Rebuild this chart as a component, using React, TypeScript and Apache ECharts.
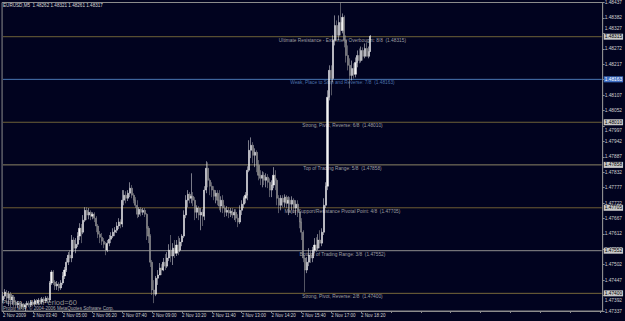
import React, { useEffect, useRef } from "react";
import * as echarts from "echarts";

const opens = [1.47376,1.47390,1.47401,1.47383,1.47397,1.47376,1.47387,1.47369,1.47358,1.47365,1.47355,1.47362,1.47351,1.47358,1.47365,1.47358,1.47369,1.47362,1.47373,1.47365,1.47376,1.47369,1.47380,1.47373,1.47383,1.47376,1.47437,1.47476,1.47440,1.47426,1.47433,1.47419,1.47437,1.47462,1.47483,1.47511,1.47536,1.47526,1.47590,1.47561,1.47575,1.47604,1.47632,1.47618,1.47661,1.47696,1.47679,1.47689,1.47675,1.47682,1.47668,1.47640,1.47611,1.47600,1.47586,1.47575,1.47554,1.47579,1.47593,1.47604,1.47618,1.47625,1.47640,1.47654,1.47647,1.47732,1.47750,1.47739,1.47757,1.47775,1.47750,1.47732,1.47714,1.47682,1.47700,1.47689,1.47696,1.47682,1.47632,1.47604,1.47511,1.47412,1.47397,1.47454,1.47465,1.47490,1.47483,1.47511,1.47497,1.47526,1.47554,1.47533,1.47561,1.47543,1.47572,1.47554,1.47583,1.47604,1.47679,1.47732,1.47753,1.47739,1.47746,1.47732,1.47689,1.47704,1.47679,1.47689,1.47675,1.47768,1.47846,1.47803,1.47782,1.47768,1.47746,1.47757,1.47732,1.47711,1.47732,1.47704,1.47689,1.47696,1.47686,1.47693,1.47679,1.47689,1.47668,1.47654,1.47696,1.47718,1.47739,1.47750,1.47839,1.47910,1.47928,1.47892,1.47903,1.47857,1.47821,1.47810,1.47821,1.47803,1.47814,1.47796,1.47768,1.47786,1.47821,1.47803,1.47739,1.47714,1.47739,1.47725,1.47743,1.47721,1.47732,1.47718,1.47732,1.47704,1.47718,1.47689,1.47654,1.47618,1.47526,1.47483,1.47511,1.47536,1.47526,1.47554,1.47572,1.47561,1.47590,1.47579,1.47618,1.47714,1.47782,1.48099,1.48195,1.48166,1.48302,1.48355,1.48320,1.48366,1.48337,1.48384,1.48302,1.48248,1.48213,1.48177,1.48202,1.48181,1.48223,1.48248,1.48230,1.48266,1.48245,1.48273,1.48245,1.48262];
const closes = [1.47390,1.47405,1.47383,1.47397,1.47376,1.47387,1.47369,1.47358,1.47365,1.47355,1.47362,1.47351,1.47358,1.47365,1.47358,1.47369,1.47362,1.47373,1.47365,1.47376,1.47369,1.47380,1.47373,1.47383,1.47376,1.47437,1.47476,1.47440,1.47426,1.47433,1.47419,1.47437,1.47462,1.47483,1.47511,1.47536,1.47526,1.47590,1.47561,1.47575,1.47604,1.47632,1.47618,1.47661,1.47696,1.47679,1.47689,1.47675,1.47682,1.47668,1.47640,1.47611,1.47600,1.47586,1.47575,1.47554,1.47579,1.47593,1.47604,1.47618,1.47625,1.47640,1.47654,1.47647,1.47732,1.47750,1.47739,1.47757,1.47775,1.47750,1.47732,1.47714,1.47682,1.47700,1.47689,1.47696,1.47682,1.47632,1.47604,1.47511,1.47412,1.47397,1.47454,1.47465,1.47490,1.47483,1.47511,1.47497,1.47526,1.47554,1.47533,1.47561,1.47543,1.47572,1.47554,1.47583,1.47604,1.47679,1.47732,1.47753,1.47739,1.47746,1.47732,1.47689,1.47704,1.47679,1.47689,1.47675,1.47768,1.47846,1.47803,1.47782,1.47768,1.47746,1.47757,1.47732,1.47711,1.47732,1.47704,1.47689,1.47696,1.47686,1.47693,1.47679,1.47689,1.47668,1.47654,1.47696,1.47718,1.47739,1.47750,1.47839,1.47910,1.47928,1.47892,1.47903,1.47857,1.47821,1.47810,1.47821,1.47803,1.47814,1.47796,1.47768,1.47786,1.47821,1.47803,1.47739,1.47714,1.47739,1.47725,1.47743,1.47721,1.47732,1.47718,1.47732,1.47704,1.47718,1.47689,1.47654,1.47618,1.47526,1.47483,1.47511,1.47536,1.47526,1.47554,1.47572,1.47561,1.47590,1.47579,1.47618,1.47714,1.47782,1.48099,1.48195,1.48166,1.48302,1.48355,1.48320,1.48366,1.48337,1.48384,1.48302,1.48248,1.48213,1.48177,1.48202,1.48181,1.48223,1.48248,1.48230,1.48266,1.48245,1.48273,1.48245,1.48262,1.48317];
const highs = [1.47405,1.47415,1.47412,1.47408,1.47405,1.47394,1.47394,1.47376,1.47373,1.47369,1.47369,1.47365,1.47365,1.47373,1.47373,1.47376,1.47376,1.47380,1.47380,1.47383,1.47383,1.47387,1.47387,1.47390,1.47390,1.47444,1.47483,1.47483,1.47447,1.47444,1.47440,1.47447,1.47476,1.47494,1.47526,1.47547,1.47554,1.47608,1.47600,1.47597,1.47618,1.47650,1.47647,1.47679,1.47707,1.47707,1.47704,1.47696,1.47689,1.47689,1.47675,1.47647,1.47622,1.47615,1.47597,1.47583,1.47590,1.47608,1.47618,1.47632,1.47636,1.47654,1.47668,1.47664,1.47768,1.47768,1.47764,1.47768,1.47796,1.47786,1.47757,1.47743,1.47732,1.47707,1.47707,1.47704,1.47704,1.47686,1.47640,1.47611,1.47519,1.47447,1.47462,1.47483,1.47508,1.47504,1.47526,1.47540,1.47547,1.47575,1.47608,1.47579,1.47590,1.47590,1.47604,1.47597,1.47611,1.47696,1.47750,1.47768,1.47761,1.47828,1.47761,1.47743,1.47714,1.47711,1.47704,1.47700,1.47782,1.47871,1.47867,1.47810,1.47796,1.47782,1.47768,1.47768,1.47768,1.47746,1.47750,1.47714,1.47711,1.47707,1.47704,1.47704,1.47700,1.47700,1.47682,1.47714,1.47732,1.47746,1.47761,1.47853,1.47946,1.47956,1.47939,1.47917,1.47910,1.47875,1.47839,1.47835,1.47832,1.47828,1.47825,1.47810,1.47803,1.47850,1.47839,1.47810,1.47750,1.47750,1.47750,1.47753,1.47750,1.47746,1.47743,1.47746,1.47739,1.47732,1.47732,1.47696,1.47668,1.47625,1.47536,1.47529,1.47561,1.47554,1.47565,1.47597,1.47600,1.47611,1.47625,1.47632,1.47739,1.47796,1.48124,1.48213,1.48213,1.48320,1.48391,1.48373,1.48391,1.48437,1.48398,1.48391,1.48320,1.48284,1.48238,1.48230,1.48220,1.48241,1.48266,1.48273,1.48280,1.48277,1.48291,1.48295,1.48280,1.48321];
const lows = [1.47365,1.47380,1.47365,1.47355,1.47351,1.47358,1.47355,1.47348,1.47348,1.47344,1.47344,1.47340,1.47337,1.47348,1.47351,1.47351,1.47355,1.47355,1.47358,1.47358,1.47362,1.47362,1.47365,1.47365,1.47365,1.47369,1.47430,1.47430,1.47412,1.47412,1.47408,1.47412,1.47430,1.47451,1.47476,1.47501,1.47511,1.47511,1.47547,1.47543,1.47565,1.47590,1.47579,1.47611,1.47654,1.47661,1.47664,1.47661,1.47664,1.47654,1.47618,1.47597,1.47579,1.47572,1.47561,1.47536,1.47547,1.47568,1.47579,1.47597,1.47604,1.47615,1.47629,1.47632,1.47636,1.47714,1.47721,1.47729,1.47743,1.47739,1.47721,1.47704,1.47668,1.47672,1.47675,1.47679,1.47672,1.47590,1.47579,1.47494,1.47394,1.47365,1.47390,1.47430,1.47469,1.47465,1.47479,1.47483,1.47490,1.47515,1.47511,1.47501,1.47526,1.47533,1.47536,1.47547,1.47568,1.47597,1.47668,1.47707,1.47721,1.47721,1.47711,1.47661,1.47668,1.47661,1.47625,1.47640,1.47661,1.47757,1.47778,1.47750,1.47743,1.47732,1.47721,1.47714,1.47696,1.47689,1.47686,1.47672,1.47675,1.47668,1.47672,1.47668,1.47661,1.47654,1.47636,1.47647,1.47679,1.47704,1.47721,1.47732,1.47832,1.47882,1.47864,1.47850,1.47832,1.47803,1.47786,1.47778,1.47786,1.47778,1.47775,1.47743,1.47743,1.47775,1.47768,1.47714,1.47686,1.47696,1.47707,1.47707,1.47704,1.47679,1.47689,1.47696,1.47686,1.47679,1.47672,1.47632,1.47590,1.47511,1.47405,1.47472,1.47497,1.47508,1.47511,1.47543,1.47547,1.47554,1.47561,1.47568,1.47608,1.47704,1.47768,1.48088,1.48106,1.48152,1.48284,1.48302,1.48302,1.48320,1.48327,1.48277,1.48223,1.48195,1.48131,1.48159,1.48166,1.48170,1.48206,1.48220,1.48223,1.48230,1.48238,1.48245,1.48238,1.48261];

const timeLabels = ["2 Nov 2009","2 Nov 03:40","2 Nov 05:00","2 Nov 06:20","2 Nov 07:40","2 Nov 09:00","2 Nov 10:20","2 Nov 11:40","2 Nov 13:00","2 Nov 14:20","2 Nov 15:40","2 Nov 17:00","2 Nov 18:20"];
const LABEL_STEP = 16;
const TOTAL_SLOTS = 322;

const yTicks = [1.48437,1.48382,1.48327,1.48272,1.48217,1.48162,1.48107,1.48052,1.47997,1.47942,1.47887,1.47832,1.47777,1.47722,1.47667,1.47612,1.47557,1.47502,1.47447,1.47392,1.47337];
const yMin = 1.47337;
const yMax = 1.48437;

const levelNames = [
  "Ultimate Resistance - Extremely Overbought: 8/8",
  "Weak, Place to Stop and Reverse: 7/8",
  "Strong, Pivot, Reverse: 6/8",
  "Top of Trading Range: 5/8",
  "Major Support/Resistance Pivotal Point: 4/8",
  "Bottom of Trading Range: 3/8",
  "Strong, Pivot, Reverse: 2/8",
];
const levelValues = [1.48315, 1.48163, 1.4801, 1.47858, 1.47705, 1.47552, 1.474];
const levelColors = ["#6e6238", "#4a78b4", "#6e6238", "#8c8465", "#6e5e34", "#8e8e8e", "#76683a"];
const levelTextColors = ["#c4c4c4", "#5f8fd0", "#c4c4c4", "#c4c4c4", "#c4c4c4", "#c4c4c4", "#c4c4c4"];
const levelBoxColors = ["#c8c8c8", "#3f6fc4", "#c8c8c8", "#c8c8c8", "#c8c8c8", "#c8c8c8", "#c8c8c8"];
const levelBoxText = ["#000000", "#ffffff", "#000000", "#000000", "#000000", "#000000", "#000000"];
const LEVEL_TEXT_AT = 182;

const titleText = "EURUSD,M5  1.48262 1.48321 1.48261 1.48317";

const BG = "#01031f";
const FONT = "'Liberation Sans', Arial, sans-serif";

export default function App() {
  const ref = useRef<HTMLDivElement>(null);
  useEffect(() => {
    if (!ref.current) return;
    const chart = echarts.init(ref.current, null, { renderer: "svg" });
    const cats = Array.from({ length: TOTAL_SLOTS }, (_, i) => "b" + i);
    const candleData = opens.map((o, i) => [o, closes[i], lows[i], highs[i]]);

    const levelSeries = levelValues.map((v, k) => ({
      type: "line",
      data: [[0, v], [TOTAL_SLOTS - 1, v]],
      symbol: "none",
      silent: true,
      z: 2,
      lineStyle: { color: levelColors[k], width: 1, type: "solid" },
      endLabel: {
        show: true,
        distance: 2,
        formatter: () => v.toFixed(5),
        fontSize: 4.8,
        fontFamily: FONT,
        color: levelBoxText[k],
        backgroundColor: levelBoxColors[k],
        padding: [1, 1, 0, 1],
      },
    }));

    const textSeries = {
      type: "scatter",
      silent: true,
      symbolSize: 0,
      z: 3,
      data: levelValues.map((v, k) => ({
        value: [LEVEL_TEXT_AT, v],
        label: {
          show: true,
          position: "bottom",
          distance: 1,
          formatter: levelNames[k] + "  (" + v.toFixed(5) + ")",
          fontSize: 4.8,
          fontFamily: FONT,
          color: levelTextColors[k],
        },
      })),
    };

    // tick labels partly hidden by a level box peek out above / below it
    const tickFormatter = (v: number) => {
      const s = v.toFixed(5);
      for (const lv of levelValues) {
        const d = v - lv;
        if (Math.abs(d) >= 0.00006 && Math.abs(d) <= 0.00014) {
          return d > 0 ? "{up|" + s + "}" : "{down|" + s + "}";
        }
      }
      return s;
    };

    const option: any = {
      animation: false,
      backgroundColor: BG,
      tooltip: { show: false },
      axisPointer: { show: false },
      grid: {
        left: 2,
        right: 20,
        top: 2,
        bottom: 10,
        show: true,
        borderColor: "#8c8c8c",
        borderWidth: 1,
        backgroundColor: "transparent",
      },
      xAxis: {
        type: "category",
        data: cats,
        boundaryGap: true,
        axisPointer: { show: false },
        axisLine: { show: true, onZero: false, lineStyle: { color: "#8c8c8c" } },
        axisTick: {
          show: true,
          alignWithLabel: true,
          length: 2,
          interval: (i: number) => i % LABEL_STEP === 0,
          lineStyle: { color: "#8c8c8c" },
        },
        axisLabel: {
          show: true,
          interval: (i: number) => i % LABEL_STEP === 0 && i / LABEL_STEP < timeLabels.length,
          formatter: (_v: string, i: number) => timeLabels[i / LABEL_STEP] || "",
          align: "left",
          fontSize: 4.5,
          fontFamily: FONT,
          color: "#d0d0d0",
          margin: 2,
        },
        splitLine: { show: false },
      },
      yAxis: {
        type: "value",
        position: "right",
        min: yMin,
        max: yMax,
        axisPointer: { show: false },
        axisLine: { show: true, lineStyle: { color: "#8c8c8c" } },
        axisTick: { show: true, length: 2, customValues: yTicks, lineStyle: { color: "#8c8c8c" } },
        axisLabel: {
          show: true,
          customValues: yTicks,
          showMinLabel: true,
          showMaxLabel: true,
          formatter: tickFormatter,
          fontSize: 4.8,
          fontFamily: FONT,
          color: "#d0d0d0",
          margin: 2,
          rich: {
            up: { fontSize: 4.8, fontFamily: FONT, color: "#d0d0d0", padding: [0, 0, 9, 0] },
            down: { fontSize: 4.8, fontFamily: FONT, color: "#d0d0d0", padding: [9, 0, 0, 0] },
          },
        },
        splitLine: { show: false },
      },
      series: [
        ...levelSeries,
        textSeries,
        {
          type: "candlestick",
          data: candleData,
          barWidth: 1.6,
          z: 5,
          itemStyle: {
            color: "#f4f4f4",
            color0: "#808080",
            borderColor: "#f4f4f4",
            borderColor0: "#a8a8a8",
            borderWidth: 0.5,
          },
        },
      ],
      graphic: [
        {
          type: "text",
          left: 3,
          top: 3,
          style: { text: titleText, fontSize: 4.6, fontFamily: FONT, fill: "#d8d8d8" },
        },
        {
          type: "text",
          left: 3,
          top: 300,
          style: { text: "Ptoply zz", fontSize: 4.6, fontFamily: FONT, fill: "#b0b0b0" },
        },
        {
          type: "text",
          left: 30,
          top: 298,
          style: { text: "MMPeriod=60", fontSize: 7.5, fontFamily: FONT, fill: "#909090" },
        },
        {
          type: "text",
          left: 3,
          top: 306,
          style: { text: "Proply MT4, © 2004-2006 MetaQuotes Software Corp.", fontSize: 4.6, fontFamily: FONT, fill: "#b0b0b0" },
        },
      ],
    };
    chart.setOption(option);
    return () => chart.dispose();
  }, []);
  return (
    <div
      ref={ref}
      style={{ position: "absolute", left: 0, top: 0, width: 625, height: 321, background: BG }}
    />
  );
}
